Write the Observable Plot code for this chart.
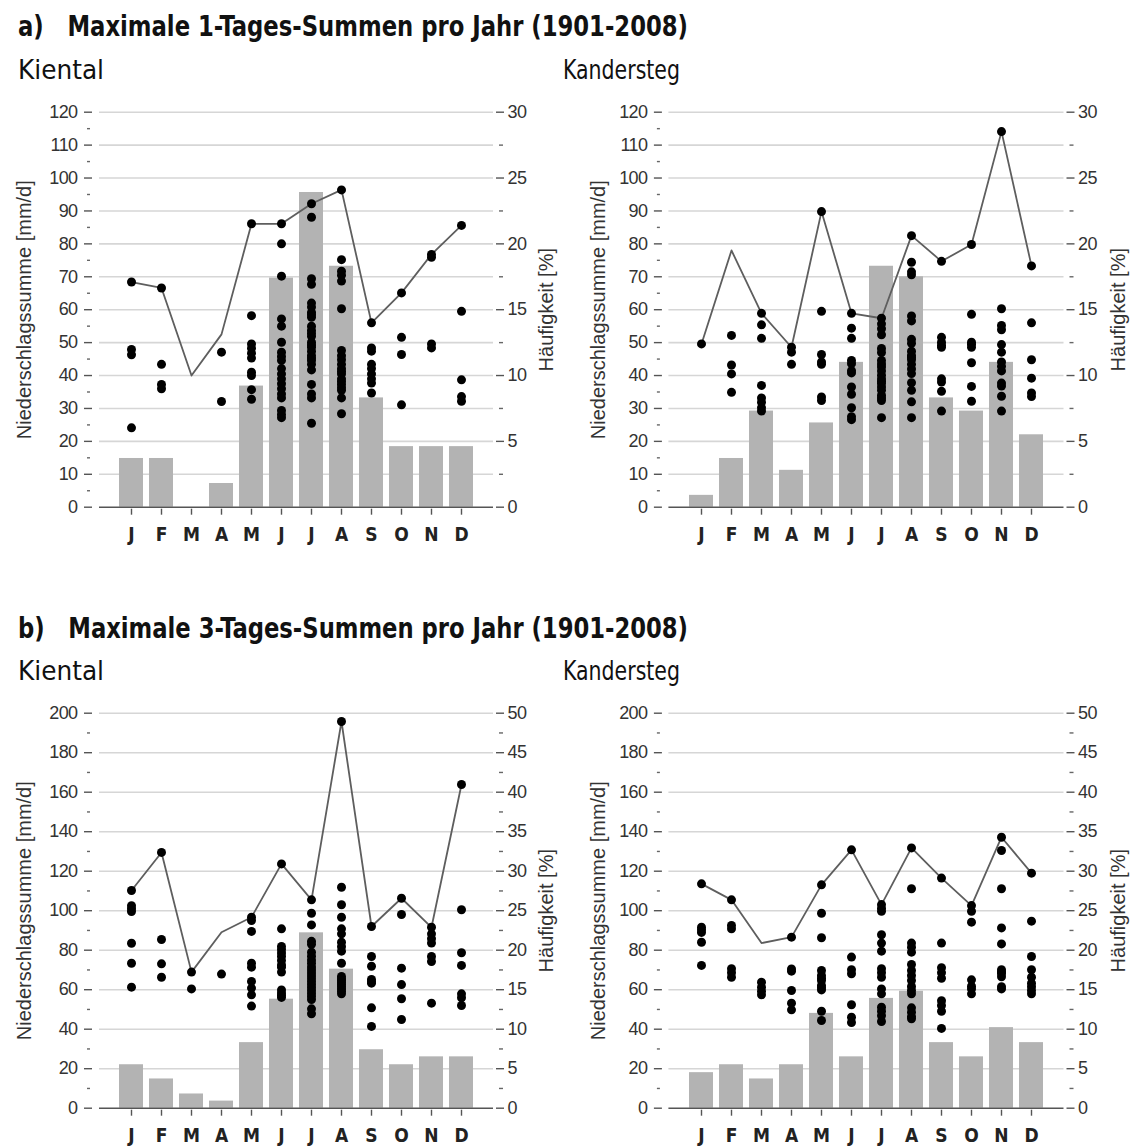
<!DOCTYPE html>
<html><head><meta charset="utf-8">
<script src="https://cdn.jsdelivr.net/npm/d3@7"></script>
<script src="https://cdn.jsdelivr.net/npm/@observablehq/plot@0.6"></script>
<style>
body{margin:0;background:#fff;}
#root{position:relative;width:1132px;height:1147px;overflow:hidden;background:#fff;}
.panel{position:absolute;}
#overlay{position:absolute;left:0;top:0;}
g[aria-label="y-axis tick label"] text{letter-spacing:-0.6px;}
</style></head><body><div id="root"><svg id="overlay" width="1132" height="1147"></svg></div>
<script>
const FONT = '"Liberation Sans","Arial",sans-serif';
const FONT_NARROW = '"DejaVu Sans Condensed","Liberation Sans",sans-serif';

const monthKeys = ["Jan","Feb","Mar","Apr","Mai","Jun","Jul","Aug","Sep","Okt","Nov","Dez"];
const monthLabels = ["J","F","M","A","M","J","J","A","S","O","N","D"];

const titleA = "a)   Maximale 1-Tages-Summen pro Jahr (1901-2008)";
const titleB = "b)   Maximale 3-Tages-Summen pro Jahr (1901-2008)";
const stationLeft = "Kiental";
const stationRight = "Kandersteg";
const yLabelLeft = "Niederschlagssumme [mm/d]";
const yLabelRight = "Häufigkeit [%]";

// a) Kiental, 1-day
const aKientalPct = [3.7,3.7,0,1.8,9.2,17.4,23.9,18.3,8.3,4.6,4.6,4.6];
const aKientalMax = [68.4,66.6,40.0,52.5,86.1,86.1,92.2,96.4,56.0,65.1,76.8,85.6];
const aKientalYears = [
  [68.4,47.9,46.3,24.1],
  [66.6,43.4,37.3,36.0],
  [],
  [47.1,32.1],
  [86.1,58.2,49.6,48.3,46.8,45.3,41.0,40.0,35.7,32.8],
  [86.1,80.0,70.2,57.2,55.0,50.1,47.1,45.8,44.6,42.1,40.5,39.0,37.5,36.0,34.4,33.2,29.4,28.2,27.2],
  [92.2,88.1,69.4,67.7,62.0,60.8,59.2,58.5,57.7,55.0,53.7,52.8,51.9,50.1,49.3,48.6,47.4,46.1,45.3,44.6,43.4,41.7,37.3,34.4,33.2,25.5],
  [96.4,75.2,71.7,70.5,68.7,60.3,47.6,46.0,44.8,43.4,42.1,41.3,40.5,39.0,38.2,37.3,36.3,35.5,33.2,28.4],
  [56.0,48.4,47.4,43.4,42.1,40.5,39.0,37.7,34.7],
  [65.1,51.6,46.4,31.1],
  [76.8,75.9,49.6,48.4],
  [85.6,59.5,38.7,33.6,32.2]
];

// a) Kandersteg, 1-day
const aKanderPct = [0.9,3.7,7.3,2.8,6.4,11.0,18.3,17.5,8.3,7.3,11.0,5.5];
const aKanderMax = [49.6,78.0,58.9,48.6,89.8,58.9,57.4,82.5,74.7,79.8,114.1,73.3];
const aKanderYears = [
  [49.6],
  [52.2,43.2,40.5,34.9],
  [58.9,55.4,51.3,37.0,33.2,31.9,30.2,29.2],
  [48.6,47.1,43.4],
  [89.8,59.5,46.4,44.1,43.4,33.5,32.4],
  [58.9,54.4,51.3,44.6,43.6,41.5,40.8,36.5,34.3,30.2,27.5,26.6],
  [57.4,55.7,54.2,52.4,48.2,47.0,44.6,43.5,42.6,41.4,40.1,39.0,38.3,37.6,36.5,35.5,34.0,33.2,32.4,27.2],
  [82.5,74.4,71.5,70.6,58.1,56.6,51.0,49.8,47.4,46.1,45.5,44.8,43.4,42.0,40.6,37.8,35.5,32.0,27.2],
  [74.7,51.6,50.1,49.2,48.6,39.0,38.0,35.2,29.2],
  [79.8,58.6,50.1,49.5,48.6,43.9,36.7,32.2],
  [114.1,60.3,55.2,53.9,49.4,47.1,44.1,42.8,41.4,37.7,36.8,33.7,29.2],
  [73.3,56.0,44.8,39.2,34.7,33.6]
];

// b) Kiental, 3-day
const bKientalPct = [5.5,3.7,1.8,0.9,8.3,13.8,22.2,17.6,7.4,5.5,6.5,6.5];
const bKientalMax = [110.2,129.5,68.9,89.1,96.7,123.7,105.5,195.8,92.0,106.3,91.6,163.9];
const bKientalYears = [
  [110.2,102.5,101.0,99.6,83.5,73.4,61.3],
  [129.5,85.4,73.1,66.3],
  [68.9,60.4],
  [67.9],
  [96.7,95.0,89.5,73.4,71.4,64.2,60.8,57.4,51.7],
  [123.7,90.8,81.9,80.3,78.6,76.9,74.8,72.5,71.4,68.9,59.9,58.3,57.1,56.1],
  [105.5,98.7,92.8,84.5,83.0,79.0,77.0,75.0,73.4,71.5,70.0,68.5,67.0,65.5,64.0,62.5,61.0,59.5,58.0,56.5,55.0,50.3,47.8],
  [195.8,111.9,103.0,96.7,90.8,88.3,84.0,81.8,79.5,73.4,66.7,65.5,64.6,63.6,62.6,61.5,60.4,59.2,57.9],
  [92.0,76.8,71.9,65.2,64.0,63.3,50.8,41.4],
  [106.3,98.1,70.9,62.6,55.4,44.9],
  [91.6,88.3,85.8,83.6,76.8,74.3,53.2],
  [163.9,100.5,78.7,72.3,57.9,55.9,52.0]
];

// b) Kandersteg, 3-day
const bKanderPct = [4.5,5.5,3.7,5.5,12.0,6.5,13.9,14.8,8.3,6.5,10.2,8.3];
const bKanderMax = [113.6,105.5,83.6,86.6,113.1,130.8,103.1,131.8,116.5,102.6,137.2,119.0];
const bKanderYears = [
  [113.6,91.6,90.3,89.0,84.0,72.3],
  [105.5,92.5,90.8,70.6,68.6,66.3],
  [63.8,61.3,59.2,57.4],
  [86.6,70.5,69.4,59.6,53.2,49.8],
  [113.1,98.7,86.3,69.7,67.2,65.8,64.7,62.1,61.0,59.9,49.1,44.4],
  [130.8,76.5,70.1,68.1,52.4,46.1,43.4],
  [103.1,101.2,99.7,87.8,83.6,79.5,70.6,68.6,66.3,60.4,57.9,51.1,49.1,46.9,43.9],
  [131.8,111.1,83.6,81.5,79.0,72.8,69.7,67.2,64.7,61.6,59.6,57.9,50.8,48.6,46.4,45.3],
  [116.5,83.6,71.1,68.6,65.8,54.4,52.0,49.1,40.4],
  [102.6,99.7,94.2,65.0,61.8,60.4,57.9],
  [137.2,130.5,111.1,91.3,83.2,70.1,69.0,68.1,66.5,61.5,60.4],
  [119.0,94.7,76.8,70.1,66.3,63.3,61.5,59.6,57.9]
];

function panel(o) {
  const rows = monthKeys.map((m, i) => ({m, pct: o.pct[i], max: o.max[i]}));
  const pts = monthKeys.flatMap((m, i) => o.years[i].map(v => ({m, v})));
  const majors = d3.range(0, o.yMax + 1e-9, o.yStep);
  const minors = d3.range(o.yStep / 2, o.yMax, o.yStep);
  const pMaj = d3.range(0, o.pctMax + 1e-9, o.pctStep).map(p => p * o.factor);
  const pMin = d3.range(o.pctStep / 2, o.pctMax, o.pctStep).map(p => p * o.factor);
  return Plot.plot({
    width: o.width, height: o.height,
    marginLeft: o.ml, marginRight: o.mr, marginTop: o.mt, marginBottom: o.mb,
    style: {fontFamily: FONT, color: "#333", background: "white", overflow: "visible"},
    x: {type: "band", domain: monthKeys, paddingInner: 0.21, paddingOuter: 0.605, axis: null},
    y: {domain: [0, o.yMax], axis: null},
    marks: [
      Plot.ruleY(majors.filter(d => d > 0), {stroke: "#d6d6d6", strokeWidth: 1.6}),
      Plot.barY(rows, {x: "m", y: d => d.pct * o.factor, fill: "#b3b3b3"}),
      Plot.ruleY([0], {stroke: "#555", strokeWidth: 1.5}),
      Plot.line(rows, {x: "m", y: "max", stroke: "#5e5e5e", strokeWidth: 1.8}),
      Plot.dot(pts, {x: "m", y: "v", r: 4.5, fill: "#000"}),
      Plot.axisY({ticks: majors, tickSize: 8, dx: o.ldx, tickPadding: 7, fontSize: 18, stroke: "#555", strokeWidth: 1.4, fill: "#333", label: null}),
      Plot.axisY({ticks: minors, tickSize: 3, dx: o.ldx - 2, text: null, stroke: "#666", strokeWidth: 1.4, label: null}),
      Plot.axisY({anchor: "right", ticks: pMaj, tickFormat: d => d / o.factor, tickSize: 8, dx: 2, tickPadding: 4, fontSize: 18, stroke: "#555", strokeWidth: 1.4, fill: "#333", label: null}),
      Plot.axisY({anchor: "right", ticks: pMin, tickSize: 4, dx: 5, text: null, stroke: "#666", strokeWidth: 1.4, label: null}),
      Plot.axisX({tickSize: 6, dy: 2, tickPadding: 12, tickFormat: d => monthLabels[monthKeys.indexOf(d)], fontSize: 19, fontWeight: "bold", fontFamily: FONT_NARROW, stroke: "#555", strokeWidth: 1.4, fill: "#222", label: null}),
      Plot.text([yLabelLeft], {frameAnchor: "left", rotate: -90, textAnchor: "middle", dx: o.labL, fontSize: 20, fill: "#333"}),
      Plot.text([yLabelRight], {frameAnchor: "right", rotate: -90, textAnchor: "middle", dx: o.labR, fontSize: 20, fill: "#333"})
    ]
  });
}

const root = document.getElementById("root");
function place(el, left, top) {
  el.classList.add("panel");
  el.style.left = left + "px";
  el.style.top = top + "px";
  root.appendChild(el);
}

const L = {width: 566, ml: 99, mr: 73, ldx: -7, labL: -75, labR: 53};
const R = {width: 566, ml: 102.4, mr: 68.5, ldx: -6.5, labL: -70, labR: 54.5};
const A = {height: 455, mt: 16.7, mb: 43.3, yMax: 120, yStep: 10, pctMax: 30, pctStep: 5, factor: 4};
const B = {height: 452, mt: 17.7, mb: 39.3, yMax: 200, yStep: 20, pctMax: 50, pctStep: 5, factor: 4};

place(panel({...L, ...A, pct: aKientalPct, max: aKientalMax, years: aKientalYears}), 0, 95);
place(panel({...R, ...A, pct: aKanderPct, max: aKanderMax, years: aKanderYears}), 566, 95);
place(panel({...L, ...B, pct: bKientalPct, max: bKientalMax, years: bKientalYears}), 0, 695);
place(panel({...R, ...B, pct: bKanderPct, max: bKanderMax, years: bKanderYears}), 566, 695);

// titles
const ov = d3.select("#overlay");
root.appendChild(document.getElementById("overlay"));
ov.style("pointer-events", "none");
function txt(s, x, y, size, weight, len) {
  ov.append("text").attr("x", x).attr("y", y)
    .attr("font-family", FONT_NARROW).attr("font-size", size).attr("font-weight", weight)
    .attr("fill", "#111").attr("textLength", len).attr("lengthAdjust", "spacingAndGlyphs")
    .attr("xml:space", "preserve").text(s);
}
txt(titleA, 18, 36, 28, "bold", 670);
txt(stationLeft, 18, 79, 27, "normal", 86);
txt(stationRight, 563, 79, 27, "normal", 117);
txt(titleB, 18, 638, 28, "bold", 670);
txt(stationLeft, 18, 680, 27, "normal", 86);
txt(stationRight, 563, 680, 27, "normal", 117);
</script></body></html>
